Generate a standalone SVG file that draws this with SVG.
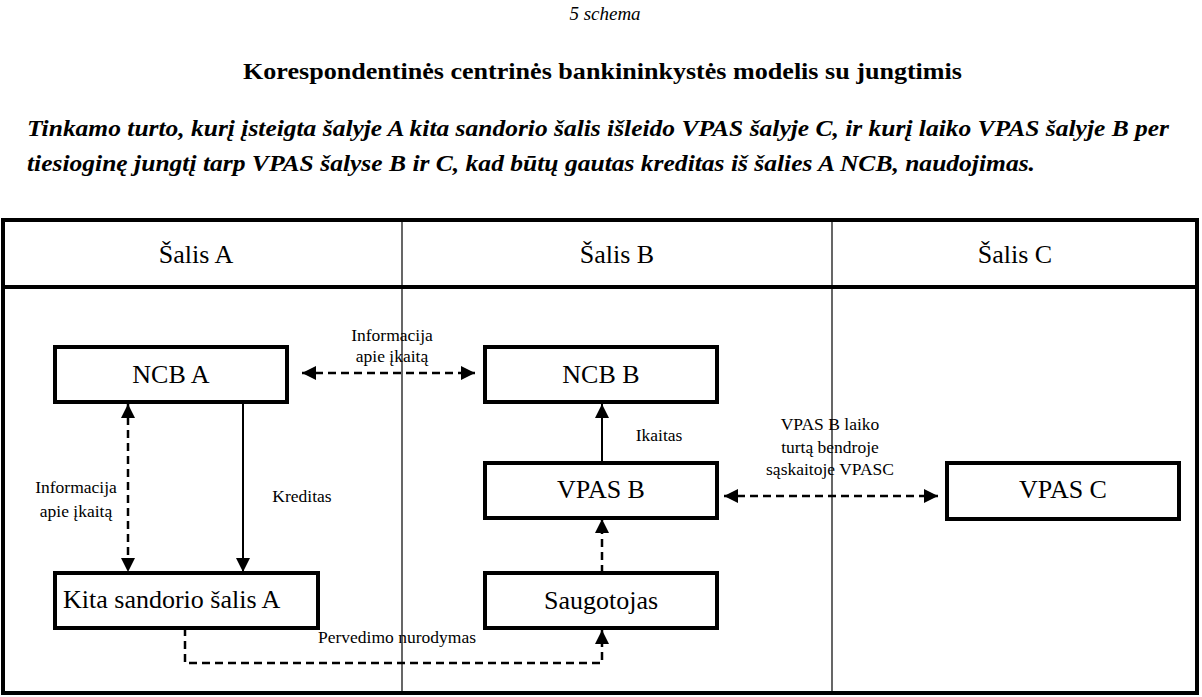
<svg xmlns="http://www.w3.org/2000/svg" width="1202" height="697" viewBox="0 0 1202 697" font-family="Liberation Serif, DejaVu Serif, serif">
<style>
.hd{font-size:26px;text-anchor:middle}
.bx{font-size:26px;text-anchor:middle}
.lb{font-size:17.5px;text-anchor:middle}
.box{fill:#fff;stroke:#000;stroke-width:4}
.sol{fill:none;stroke:#000;stroke-width:2}
.dash{fill:none;stroke:#000;stroke-width:2.5;stroke-dasharray:8 5}
.div{stroke:#000;stroke-width:1.2}
</style>
<defs>
<marker id="ah" viewBox="0 0 14 14" refX="14" refY="7" markerWidth="14" markerHeight="14" markerUnits="userSpaceOnUse" orient="auto-start-reverse">
<path d="M0,0 L14,7 L0,14 z" fill="#000"/>
</marker>
</defs>
<rect width="1202" height="697" fill="#fff"/>
<g id="titles" font-family="Liberation Serif, serif">
<text x="605" y="20" font-size="19" font-style="italic" text-anchor="middle">5 schema</text>
<text x="243" y="79" font-size="24" font-weight="bold" textLength="719" lengthAdjust="spacingAndGlyphs">Korespondentinės centrinės bankininkystės modelis su jungtimis</text>
<text x="27" y="136" font-size="24" font-weight="bold" font-style="italic" textLength="1142" lengthAdjust="spacingAndGlyphs">Tinkamo turto, kurį įsteigta šalyje A kita sandorio šalis išleido VPAS šalyje C, ir kurį laiko VPAS šalyje B per</text>
<text x="27" y="171" font-size="24" font-weight="bold" font-style="italic" textLength="1008" lengthAdjust="spacingAndGlyphs">tiesioginę jungtį tarp VPAS šalyse B ir C, kad būtų gautas kreditas iš šalies A NCB, naudojimas.</text>
</g>
<g id="frame" font-family="Liberation Serif, serif">
<rect x="3" y="220" width="1194" height="473" fill="none" stroke="#000" stroke-width="4"/>
<line x1="3" y1="287" x2="1197" y2="287" stroke="#000" stroke-width="4"/>
<line class="div" x1="402" y1="220" x2="402" y2="693"/>
<line class="div" x1="832" y1="220" x2="832" y2="693"/>
<text class="hd" x="196" y="263">Šalis A</text>
<text class="hd" x="617" y="263">Šalis B</text>
<text class="hd" x="1015" y="263">Šalis C</text>
</g>
<g id="connectors" font-family="Liberation Serif, serif">
<line class="dash" x1="302" y1="373" x2="475" y2="373" marker-start="url(#ah)" marker-end="url(#ah)"/>
<line class="dash" x1="128" y1="404" x2="128" y2="572" marker-start="url(#ah)" marker-end="url(#ah)"/>
<line class="sol" x1="243" y1="402" x2="243" y2="572" marker-end="url(#ah)"/>
<line class="sol" x1="602" y1="463" x2="602" y2="404" marker-end="url(#ah)"/>
<line class="dash" x1="602" y1="573" x2="602" y2="519" marker-end="url(#ah)"/>
<line class="dash" x1="724" y1="496" x2="938" y2="496" marker-start="url(#ah)" marker-end="url(#ah)"/>
<path class="dash" d="M185,628 V663 H602 V630" marker-end="url(#ah)"/>
<text class="lb" x="392" y="341">Informacija</text>
<text class="lb" x="392" y="362">apie įkaitą</text>
<text class="lb" x="76" y="493">Informacija</text>
<text class="lb" x="76" y="517">apie įkaitą</text>
<text class="lb" x="302" y="502">Kreditas</text>
<text class="lb" x="659" y="441">Ikaitas</text>
<text class="lb" x="830" y="430">VPAS B laiko</text>
<text class="lb" x="830" y="453">turtą bendroje</text>
<text class="lb" x="830" y="475">sąskaitoje VPASC</text>
<text class="lb" x="397" y="643">Pervedimo nurodymas</text>
</g>
<g id="ncb-a" font-family="Liberation Serif, serif">
<rect class="box" x="55" y="347" width="232" height="55"/>
<text class="bx" x="171" y="383">NCB A</text>
</g>
<g id="ncb-b" font-family="Liberation Serif, serif">
<rect class="box" x="485" y="347" width="232" height="55"/>
<text class="bx" x="601" y="383">NCB B</text>
</g>
<g id="vpas-b" font-family="Liberation Serif, serif">
<rect class="box" x="485" y="463" width="232" height="55"/>
<text class="bx" x="601" y="498">VPAS B</text>
</g>
<g id="vpas-c" font-family="Liberation Serif, serif">
<rect class="box" x="947" y="463" width="232" height="56"/>
<text class="bx" x="1063" y="498">VPAS C</text>
</g>
<g id="kita" font-family="Liberation Serif, serif">
<rect class="box" x="55" y="573" width="263" height="55"/>
<text x="63" y="608" font-size="26">Kita sandorio šalis A</text>
</g>
<g id="saugotojas" font-family="Liberation Serif, serif">
<rect class="box" x="485" y="573" width="232" height="55"/>
<text class="bx" x="601" y="609">Saugotojas</text>
</g>
</svg>
